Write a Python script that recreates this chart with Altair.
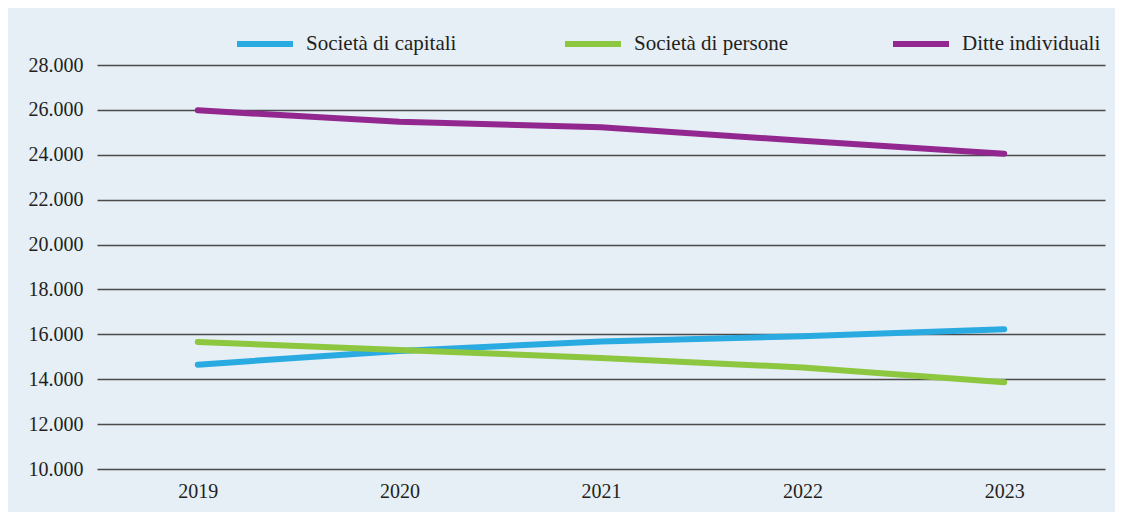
import altair as alt
import pandas as pd

years = ["2019", "2020", "2021", "2022", "2023"]
series_names = ["Società di capitali", "Società di persone", "Ditte individuali"]
capitali = [14650, 15260, 15680, 15920, 16230]
persone = [15660, 15300, 14950, 14520, 13860]
individuali = [25980, 25470, 25230, 24620, 24050]
y_ticks = [10000, 12000, 14000, 16000, 18000, 20000, 22000, 24000, 26000, 28000]
colors = ["#29ABE2", "#8DC63F", "#92278F"]

rows = []
for name, vals in zip(series_names, [capitali, persone, individuali]):
    for yr, v in zip(years, vals):
        rows.append({"Anno": yr, "Serie": name, "Valore": v})
df = pd.DataFrame(rows)

FONT = "'Liberation Serif', 'Times New Roman', serif"
FS = 20
TXT = "#231F20"

chart = (
    alt.Chart(df)
    .mark_line(strokeWidth=6, strokeCap="round", strokeJoin="round")
    .encode(
        x=alt.X(
            "Anno:N",
            sort=years,
            scale=alt.Scale(paddingInner=0, paddingOuter=0),
            axis=alt.Axis(
                title=None, labelAngle=0, ticks=False, domain=False, grid=False,
                labelFont=FONT, labelFontSize=FS, labelColor=TXT, labelPadding=12,
            ),
        ),
        y=alt.Y(
            "Valore:Q",
            scale=alt.Scale(domain=[10000, 28000], nice=False, zero=False),
            axis=alt.Axis(
                title=None, values=y_ticks, ticks=False, domain=False,
                grid=True, gridColor="#4a4a4a", gridWidth=1.3,
                labelExpr="replace(format(datum.value, ',d'), ',', '.')",
                labelFont=FONT, labelFontSize=FS, labelColor=TXT, labelPadding=14,
            ),
        ),
        color=alt.Color(
            "Serie:N",
            sort=series_names,
            scale=alt.Scale(domain=series_names, range=colors),
            legend=alt.Legend(
                title=None, orient="none", direction="horizontal",
                legendX=137, legendY=-52,
                symbolType="stroke", symbolSize=3136, symbolStrokeWidth=6,
                labelFont=FONT, labelFontSize=21, labelColor=TXT,
                labelOffset=10, columnPadding=93, gridAlign="all",
            ),
        ),
        order=alt.Order("Anno:N"),
    )
    .properties(
        width=1008, height=404,
        autosize=alt.AutoSizeParams(type="none"),
        padding={"left": 89, "top": 57, "right": 10, "bottom": 43},
        background="#E6EEF6",
    )
    .configure(font=FONT)
    .configure_axis(labelFont=FONT)
    .configure_legend(labelFont=FONT)
    .configure_view(stroke=None)
)

chart.save("out.html", embed_options={"renderer": "svg", "actions": False})
